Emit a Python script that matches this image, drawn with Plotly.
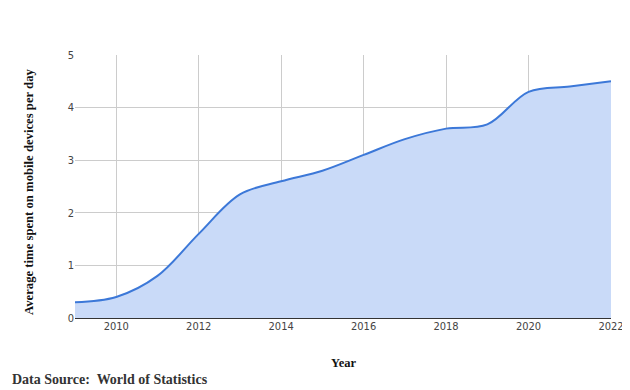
import plotly.graph_objects as go

years = list(range(2009, 2023))
hours = [0.3, 0.4, 0.8, 1.6, 2.35, 2.6, 2.8, 3.1, 3.4, 3.6, 3.68, 4.3, 4.4, 4.5]
x_ticks = [2010, 2012, 2014, 2016, 2018, 2020, 2022]
y_ticks = [0, 1, 2, 3, 4, 5]

# page body has an 8px margin; figure coordinates are offset accordingly
OFF = 8
W, H = 630 - OFF, 390 - OFF
L, T = 75 - OFF, 55 - OFF
R = W - (611 - OFF)
B = H - (318 - OFF)
PW, PH = W - L - R, H - T - B


def px_x(x):
    return (x - OFF - L) / PW


def px_y(y):
    return (H - B - (y - OFF)) / PH


fig = go.Figure()
fig.add_trace(go.Scatter(
    x=years, y=hours, mode="lines",
    line=dict(color="#3c78d8", width=2, shape="spline", smoothing=1.0),
    fill="tozeroy", fillcolor="#c9daf8", hoverinfo="skip", showlegend=False,
))

tickfont = dict(family="DejaVu Sans Condensed, DejaVu Sans", size=11, color="#444")

fig.update_layout(
    width=W, height=H,
    margin=dict(l=L, r=R, t=T, b=B),
    paper_bgcolor="white", plot_bgcolor="white",
    font=dict(family="DejaVu Sans", size=11, color="#222"),
    xaxis=dict(
        range=[2009, 2022], tickvals=x_ticks, ticktext=[str(t) for t in x_ticks],
        showgrid=True, gridcolor="#cccccc", gridwidth=1, zeroline=False,
        showline=False, ticks="", ticklen=0, automargin=False,
        tickfont=tickfont,
    ),
    yaxis=dict(
        range=[0, 5], tickvals=y_ticks,
        showgrid=True, gridcolor="#cccccc", gridwidth=1,
        zeroline=True, zerolinecolor="#333333", zerolinewidth=1.5,
        showline=False, ticks="", ticklen=0, automargin=False,
        tickfont=tickfont,
    ),
    annotations=[
        dict(text="<b>Year</b>", xref="paper", yref="paper",
             x=0.5, y=px_y(363), xanchor="center", yanchor="middle",
             showarrow=False, font=dict(family="Liberation Serif", size=12.5, color="#111")),
        dict(text="<b>Average time spent on mobile devices per day</b>", xref="paper", yref="paper",
             x=px_x(29), y=px_y(192), xanchor="center", yanchor="middle",
             textangle=-90, showarrow=False,
             font=dict(family="Liberation Serif", size=12.7, color="#111")),
        dict(text="<b>Data Source:  World of Statistics</b>", xref="paper", yref="paper",
             x=px_x(10), y=px_y(379), xanchor="left", yanchor="middle",
             showarrow=False, font=dict(family="Liberation Serif", size=14, color="#333")),
    ],
)

fig.write_html("out.html")
